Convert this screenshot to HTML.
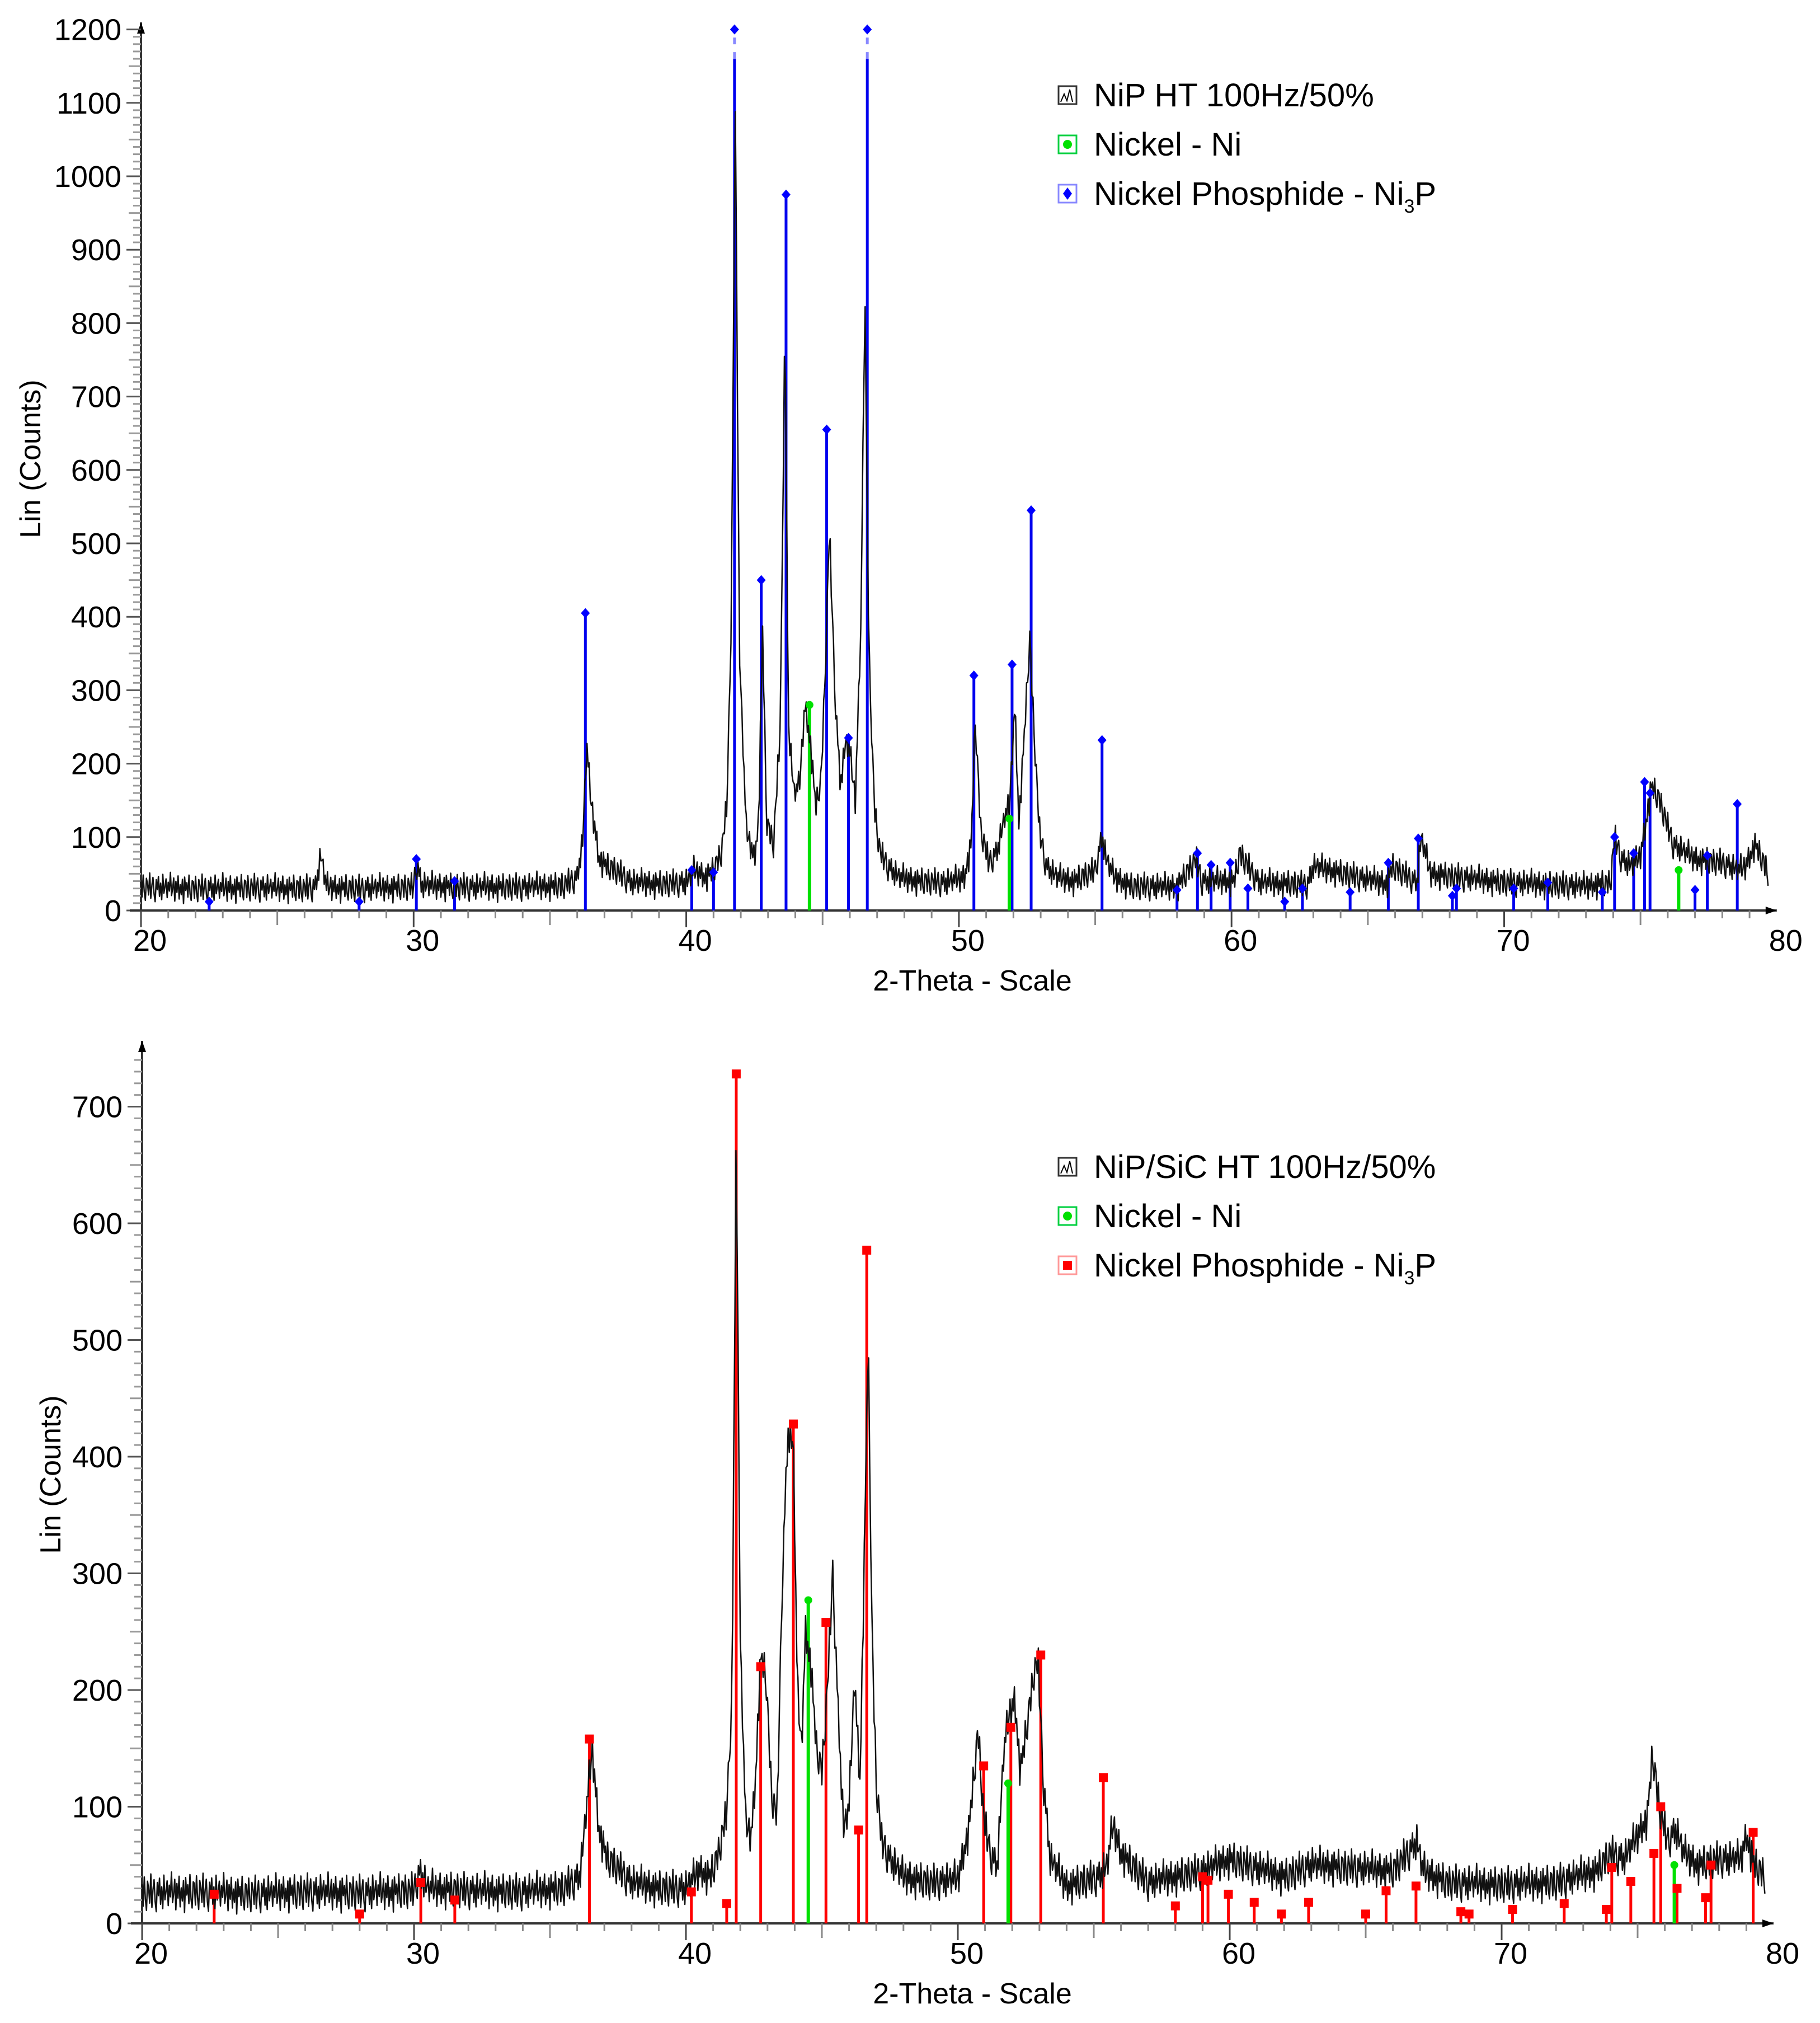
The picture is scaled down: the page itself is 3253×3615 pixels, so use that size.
<!DOCTYPE html>
<html><head><meta charset="utf-8"><style>
html,body{margin:0;padding:0;background:#fff}
svg{display:block}
text{font-family:"Liberation Sans",sans-serif;fill:#000}
</style></head>
<body>
<svg id="fig" width="3253" height="3615" viewBox="0 0 3253 3615" xmlns="http://www.w3.org/2000/svg">
<g id="top"></g>
<g id="bot"></g>
</svg>
<script>
// ===== Data =====
const xTicks = [20,30,40,50,60,70,80];
const topYTicks = [0,100,200,300,400,500,600,700,800,900,1000,1100,1200];
const botYTicks = [0,100,200,300,400,500,600,700];
// top measured profile (angle, counts)
const topAng = [20,22,24,26,26.4,26.6,26.8,28,30,30.1,30.3,32,34,35.5,36.0,36.2,36.35,36.5,36.8,37.1,37.4,38,39,40,40.3,40.7,41.0,41.3,41.5,41.65,41.8,41.95,42.2,42.5,42.65,42.8,42.95,43.2,43.45,43.62,43.75,43.95,44.15,44.35,44.55,44.75,44.95,45.1,45.25,45.45,45.65,45.85,46.0,46.2,46.4,46.55,46.7,46.9,47.1,47.4,47.8,48.5,49.5,50.2,50.45,50.6,50.8,51.1,51.4,51.7,51.85,52.05,52.2,52.4,52.6,52.75,52.95,53.2,53.6,54.2,55.0,55.25,55.4,55.7,56.3,58,58.7,58.9,60.1,60.3,61,62.8,63,65.7,65.9,66.8,66.95,67.3,70,73,73.9,74.05,74.3,74.7,75.0,75.2,75.4,75.7,76.2,77,78,78.6,78.85,79.2,79.7];
const topCnt = [32,30,31,30,32,75,32,30,32,65,34,32,32,34,45,95,225,150,70,60,55,38,36,38,55,45,55,80,150,400,1100,350,110,70,120,380,120,90,250,810,250,160,170,280,230,140,180,330,520,300,170,230,215,150,380,840,350,140,80,60,45,40,38,45,90,260,110,65,80,130,140,280,120,240,370,250,110,60,45,40,55,100,70,45,33,32,70,40,40,78,38,35,60,36,60,38,100,50,38,33,38,100,70,60,75,120,170,150,90,70,65,55,60,90,50,38];
// bottom measured profile (angle, counts)
const botAng = [20,22,24,26,28,30.0,30.2,30.5,32,34,35.5,36.1,36.35,36.55,36.8,37.1,37.4,38,39,40,40.5,40.9,41.2,41.5,41.7,41.85,42.0,42.2,42.4,42.55,42.75,42.95,43.15,43.35,43.55,43.75,43.95,44.1,44.25,44.4,44.6,44.8,45.0,45.2,45.4,45.6,45.8,46.0,46.2,46.4,46.55,46.7,46.85,47.0,47.2,47.5,48,49,50,50.4,50.75,50.95,51.2,51.45,51.7,51.9,52.1,52.3,52.55,52.8,52.95,53.15,53.4,54,55.2,55.5,55.7,56,57,59,60,62,63,66,66.9,67.1,68,70,72,73.5,74,74.5,75.0,75.35,75.55,75.8,76.1,76.4,76.7,77.2,78,78.8,79.0,79.3,79.7];
const botCnt = [26,27,25,27,26,28,44,30,28,27,30,40,100,150,80,55,50,35,30,30,45,40,60,95,200,690,240,85,75,120,230,210,110,90,300,420,410,200,150,250,220,150,130,200,300,180,80,100,210,120,300,505,240,120,70,55,40,35,38,80,165,90,60,48,150,180,190,130,170,215,225,120,55,32,40,50,85,60,35,45,55,40,50,45,70,45,35,33,35,45,60,55,75,90,145,100,70,80,60,50,55,55,75,50,40];
// reference sticks
const topNi3PAng = [22.5,28.0,30.1,31.5,36.3,40.2,41.0,41.77,42.75,43.66,45.15,45.95,46.64,50.55,51.95,52.65,55.25,58.0,58.75,59.25,59.95,60.6,61.95,62.6,64.35,65.75,66.85,68.1,68.25,70.35,71.6,73.6,74.05,74.75,75.15,75.35,77.0,77.45,78.55];
const topNi3PCnt = [12,12,70,40,405,55,52,1200,450,975,655,235,1200,320,335,545,232,28,78,62,65,30,12,30,25,65,98,20,30,30,38,25,100,78,175,160,28,75,145];
const topNiAng = [44.52,51.85,76.4];
const topNiCnt = [280,125,55];
const botNi3PAng = [22.65,28.0,30.25,31.5,36.45,40.2,41.5,41.85,42.75,43.95,45.15,46.35,46.65,50.95,51.95,53.05,55.35,58.0,59.0,59.2,59.95,60.9,61.9,62.9,65.0,65.75,66.85,68.5,68.8,70.4,72.3,73.85,74.05,74.75,75.6,75.85,76.45,77.5,77.7,79.25];
const botNi3PCnt = [25,8,35,20,158,27,17,728,220,428,258,80,577,135,168,230,125,15,40,37,25,18,8,18,8,28,32,10,8,12,17,12,48,36,60,100,30,22,50,78];
const botNiAng = [44.5,51.85,76.35];
const botNiCnt = [277,120,50];
// hand-entered detector noise offsets (counts), cycled along the scan
const noise = [6,-9,11,-4,-12,8,3,-7,13,-10,2,9,-6,-13,7,-2,10,-8,4,-11,12,-5,1,8,-9,5,-3,14,-7,-1,9,-12,6,-4,11,-10,3,-6,8,-14,10,-2,5,-8,12,-5,-11,7];

// ===== Drawing =====
const NS = "http://www.w3.org/2000/svg";
function mk(parent, tag, attrs) {
  const e = document.createElementNS(NS, tag);
  for (const k in attrs) e.setAttribute(k, attrs[k]);
  parent.appendChild(e);
  return e;
}
function interp(a, c, x) {
  if (x <= a[0]) return c[0];
  for (let i = 1; i < a.length; i++) {
    if (x <= a[i]) { const t = (x - a[i-1]) / (a[i] - a[i-1]); return c[i-1] + t * (c[i] - c[i-1]); }
  }
  return c[c.length - 1];
}
function drawChart(g, cfg) {
  const X = v => cfg.x0 + (v - 20) * cfg.px10 / 10;
  const Y = v => cfg.y0 - v * cfg.py100 / 100;
  const xEnd = X(80);
  let e = mk(g, 'line', {x1:cfg.x0, y1:cfg.y0, x2:cfg.x0, y2:cfg.yTop, stroke:'#333', 'stroke-width':4});
  
  
  e = mk(g, 'path', {d:`M${cfg.x0-7},${cfg.yTop+20} L${cfg.x0},${cfg.yTop} L${cfg.x0+7},${cfg.yTop+20} Z`, fill:'#000'});
  
  
  for (let v = 0; v <= cfg.yMax; v += 10) {
    const major = v % 100 === 0;
    const t = mk(g, 'line', {x1:cfg.x0 - (major ? 26 : (v % 50 === 0 ? 22 : 14)), y1:Y(v), x2:cfg.x0, y2:Y(v), stroke: major ? '#555' : '#999', 'stroke-width':3});
    
    
  }
  cfg.yTicks.forEach(v => {
    const t = mk(g, 'text', {x:cfg.x0 - 35, y:Y(v) + 19, 'text-anchor':'end', 'font-size':54});
    t.textContent = v;
    
    
  });
  e = mk(g, 'line', {x1:cfg.x0 - 20, y1:cfg.y0, x2:xEnd, y2:cfg.y0, stroke:'#333', 'stroke-width':4});
  
  
  e = mk(g, 'path', {d:`M${xEnd-20},${cfg.y0-7} L${xEnd},${cfg.y0} L${xEnd-20},${cfg.y0+7} Z`, fill:'#000'});
  
  
  for (let v = 20; v < 80; v += 1) {
    const major = v % 10 === 0, half = v % 5 === 0;
    const t = mk(g, 'line', {x1:X(v), y1:cfg.y0, x2:X(v), y2:cfg.y0 + (major ? 30 : half ? 26 : 14), stroke: major ? '#444' : '#888', 'stroke-width':3});
    
    
  }
  xTicks.forEach(v => {
    const t = mk(g, 'text', {x:X(v) + 16, y:cfg.y0 + 72, 'text-anchor':'middle', 'font-size':54});
    t.textContent = v;
    
    
  });
  e = mk(g, 'text', {x:1738, y:cfg.y0 + 143, 'text-anchor':'middle', 'font-size':52});
  e.textContent = '2-Theta - Scale';
  
  
  e = mk(g, 'text', {x:0, y:0, 'text-anchor':'middle', 'font-size':52, transform:`translate(${cfg.ytX},${cfg.ytY}) rotate(-90)`});
  e.textContent = 'Lin (Counts)';
  
  
  cfg.pAng.forEach((a, i) => {
    const c = cfg.pCnt[i];
    const top = c >= 1150 ? Y(1160) : Y(c) + 6;
    const s = mk(g, 'line', {x1:X(a), y1:cfg.y0, x2:X(a), y2:top, stroke:cfg.pCol, 'stroke-width':5});
    
    
    if (c >= 1150) {
      const ds = mk(g, 'line', {x1:X(a), y1:top, x2:X(a), y2:Y(c) + 8, stroke:cfg.pLight, 'stroke-width':5, 'stroke-dasharray':'12 14'});
      
      
    }
  });
  cfg.nAng.forEach((a, i) => {
    const s = mk(g, 'line', {x1:X(a), y1:cfg.y0, x2:X(a), y2:Y(cfg.nCnt[i]), stroke:'#00e000', 'stroke-width':6});
    
    
  });
  let d = '';
  let k = 0;
  for (let a = 20; a <= 79.7001; a += 0.04, k++) {
    let c = interp(cfg.ang, cfg.cnt, a);
    c += noise[k % noise.length] * cfg.noiseScale;
    d += (d ? 'L' : 'M') + X(a).toFixed(1) + ',' + Y(c).toFixed(1);
  }
  e = mk(g, 'path', {d:d, fill:'none', stroke:'#111', 'stroke-width':2.5, 'stroke-linejoin':'round'});
  
  
  cfg.pAng.forEach((a, i) => {
    const x = X(a), y = Y(cfg.pCnt[i]);
    let m;
    if (cfg.square) m = mk(g, 'rect', {x:x - 8, y:y - 8, width:16, height:16, fill:'#f00'});
    else m = mk(g, 'path', {d:`M${x},${y-9} L${x+8},${y} L${x},${y+9} L${x-8},${y} Z`, fill:'#00f'});
    
    
  });
  cfg.nAng.forEach((a, i) => {
    const m = mk(g, 'circle', {cx:X(a), cy:Y(cfg.nCnt[i]), r:7, fill:'#00e000'});
    
    
  });
  const lx = 1892, names = cfg.legend;
  names.forEach((nm, i) => {
    const by = cfg.legY + i * 88;
    const box = mk(g, 'rect', {x:lx, y:by - 36, width:32, height:32, fill:'none', stroke: i === 0 ? '#333' : (i === 1 ? '#00d040' : cfg.pLight), 'stroke-width':3});
    
    
    if (i === 0) {
      const w = mk(g, 'path', {d:`M${lx+4},${by-8} L${lx+10},${by-22} L${lx+15},${by-10} L${lx+20},${by-30} L${lx+25},${by-8}`, fill:'none', stroke:'#000', 'stroke-width':2});
      
      
    } else if (i === 1) {
      const c = mk(g, 'circle', {cx:lx + 16, cy:by - 20, r:8, fill:'#00e000'});
      
      
    } else {
      const c = cfg.square ? mk(g, 'rect', {x:lx + 8, y:by - 28, width:16, height:16, fill:'#f00'}) : mk(g, 'path', {d:`M${lx+16},${by-31} L${lx+24},${by-20} L${lx+16},${by-9} L${lx+8},${by-20} Z`, fill:'#00f'});
      
      
    }
    const t = mk(g, 'text', {x:1955, y:by, 'font-size':58});
    
    
    if (i === 2) {
      t.appendChild(document.createTextNode('Nickel Phosphide - Ni'));
      const sub = mk(t, 'tspan', {'font-size':34, dy:14});
      sub.textContent = '3';
      const p = mk(t, 'tspan', {dy:-14});
      p.textContent = 'P';
    } else t.textContent = nm;
  });
}
drawChart(document.getElementById('top'), {
  x0:252, px10:487.3, y0:1627, py100:131.2, yTop:40, yMax:1200, yTicks:topYTicks,
  ytX:72, ytY:820, ang:topAng, cnt:topCnt, noiseScale:1.5,
  pAng:topNi3PAng, pCnt:topNi3PCnt, pCol:'#0000ee', pLight:'#8888ff', square:false,
  nAng:topNiAng, nCnt:topNiCnt, legY:190,
  legend:['NiP HT  100Hz/50%','Nickel - Ni','Nickel Phosphide - Ni3P']
});
drawChart(document.getElementById('bot'), {
  x0:254, px10:486, y0:3437, py100:208.5, yTop:1860, yMax:740, yTicks:botYTicks,
  ytX:108, ytY:2635, ang:botAng, cnt:botCnt, noiseScale:1.25,
  pAng:botNi3PAng, pCnt:botNi3PCnt, pCol:'#ff0000', pLight:'#ff9999', square:true,
  nAng:botNiAng, nCnt:botNiCnt, legY:2105,
  legend:['NiP/SiC HT 100Hz/50%','Nickel - Ni','Nickel Phosphide - Ni3P']
});
</script>
</body></html>
